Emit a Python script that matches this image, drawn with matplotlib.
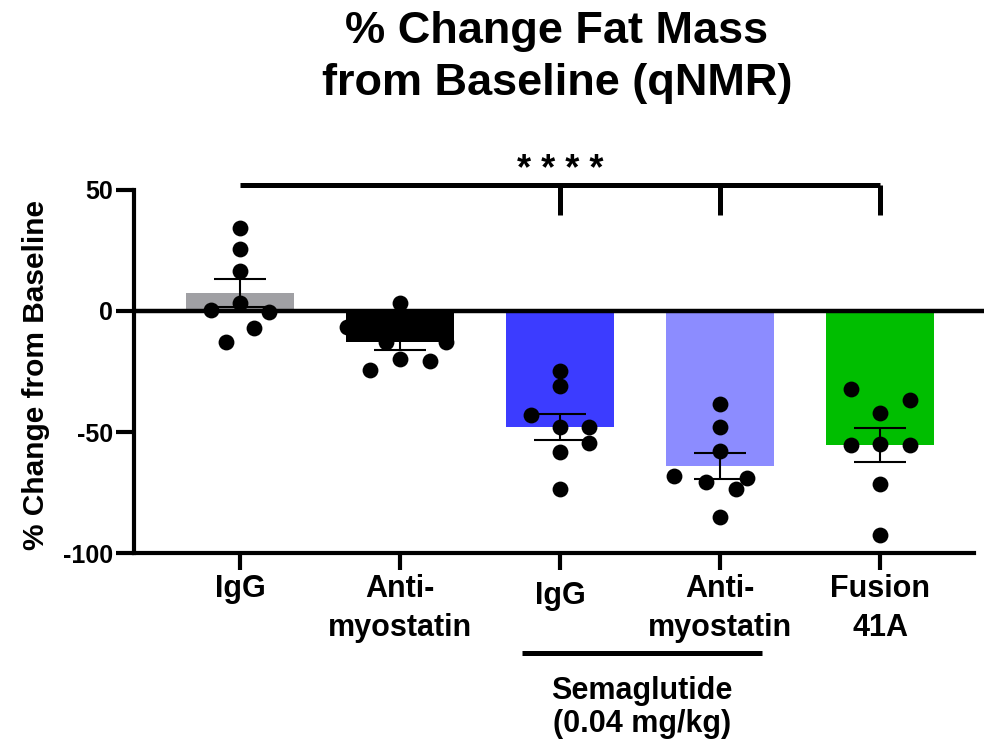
import numpy as np
import matplotlib
matplotlib.use('Agg')
from matplotlib import pyplot as plt
from matplotlib import transforms

plt.rcParams['font.family'] = ['Liberation Sans', 'DejaVu Sans']
plt.rcParams['font.weight'] = 'bold'
plt.rcParams['axes.unicode_minus'] = False

# data
groups = ['IgG', 'Anti-\nmyostatin', 'IgG', 'Anti-\nmyostatin', 'Fusion\n41A']
means = [7.4, -12.8, -47.9, -64.0, -55.4]
sems = [5.8, 3.3, 5.5, 5.3, 6.9]
colors = ['#a0a0a4', '#000000', '#3c3cff', '#8c8cff', '#00be00']

pts_igg = [34.3, 25.6, 16.5, 3.3, 0.4, -0.4, -7.0, -13.0]
jit_igg = [0, 0, 0, 0, -0.18, 0.18, 0.09, -0.09]
pts_anti = [3.3, -6.6, -8.0, -13.0, -13.0, -20.0, -20.7, -24.4]
jit_anti = [0, -0.33, 0, -0.09, 0.29, 0, 0.19, -0.19]
pts_sema_igg = [-24.8, -30.9, -43.0, -48.0, -48.0, -54.6, -58.4, -73.6]
jit_sema_igg = [0, 0, -0.18, 0, 0.18, 0.18, 0, 0]
pts_sema_anti = [-38.5, -47.8, -57.7, -68.0, -70.6, -73.6, -69.0, -85.0]
jit_sema_anti = [0, 0, 0, -0.29, -0.09, 0.1, 0.17, 0]
pts_fusion = [-32.2, -36.8, -42.0, -55.4, -55.0, -55.4, -71.5, -92.6]
jit_fusion = [-0.18, 0.19, 0, -0.18, 0, 0.19, 0, 0]

points = [pts_igg, pts_anti, pts_sema_igg, pts_sema_anti, pts_fusion]
jitter = [jit_igg, jit_anti, jit_sema_igg, jit_sema_anti, jit_fusion]

fig = plt.figure(figsize=(9.84, 7.41), dpi=100)
ax = fig.add_axes([0.1362, 0.2537, 0.8638, 0.4899])

x = np.arange(len(groups))
ax.bar(x, means, width=0.67, color=colors, zorder=2)
ax.errorbar(x, means, yerr=sems, fmt='none', ecolor='k', elinewidth=1.5,
            capsize=19, capthick=1.5, zorder=3)
for i, (vals, jit) in enumerate(zip(points, jitter)):
    ax.scatter(i + np.array(jit), vals, s=130, color='k', zorder=4,
               linewidths=0)

ax.set_xlim(-0.6625, 4.65)
ax.set_ylim(-100, 50)
ax.plot([-0.6625, 4.65], [0, 0], color='k', lw=3.2, zorder=3,
        clip_on=False, solid_capstyle='butt')

for s in ['top', 'right']:
    ax.spines[s].set_visible(False)
for s in ['left', 'bottom']:
    ax.spines[s].set_linewidth(3)
ax.spines['bottom'].set_bounds(-0.6625, 4.59)

ax.set_yticks([-100, -50, 0, 50])
ax.tick_params(axis='y', length=13, width=3, pad=2, labelsize=18)
ax.set_xticks(x)
ax.set_xticklabels(groups, fontsize=22, linespacing=1.38)
ax.tick_params(axis='x', length=12, width=3, pad=3)
lab = ax.get_xticklabels()[2]
lab.set_transform(lab.get_transform() +
                  transforms.ScaledTranslation(0, -7 / 100, fig.dpi_scale_trans))

ax.set_ylabel('% Change from Baseline', fontsize=21.5, fontweight='bold')
ax.yaxis.set_label_coords(-0.099, 0.49)

# significance bracket
ax.plot([0, 4], [52.1, 52.1], color='k', lw=3.6, clip_on=False,
        solid_capstyle='butt')
for xi in [2, 3, 4]:
    ax.plot([xi, xi], [52.1, 39.7], color='k', lw=3.6, clip_on=False,
            solid_capstyle='butt')
ax.text(2, 58, '* * * *', ha='center', va='center', fontsize=26,
        fontweight='bold')

# semaglutide group marker
ax.plot([1.76, 3.26], [-141.3, -141.3], color='k', lw=3.6, clip_on=False,
        solid_capstyle='butt')
ax.text(2.51, -151, 'Semaglutide\n(0.04 mg/kg)', ha='center', va='top',
        fontsize=22, fontweight='bold', linespacing=1.1)

fig.text(0.566, 0.922, '% Change Fat Mass\nfrom Baseline (qNMR)',
         ha='center', va='center', fontsize=32.5, fontweight='bold',
         linespacing=1.34)

fig.savefig('out.png', dpi=100)
